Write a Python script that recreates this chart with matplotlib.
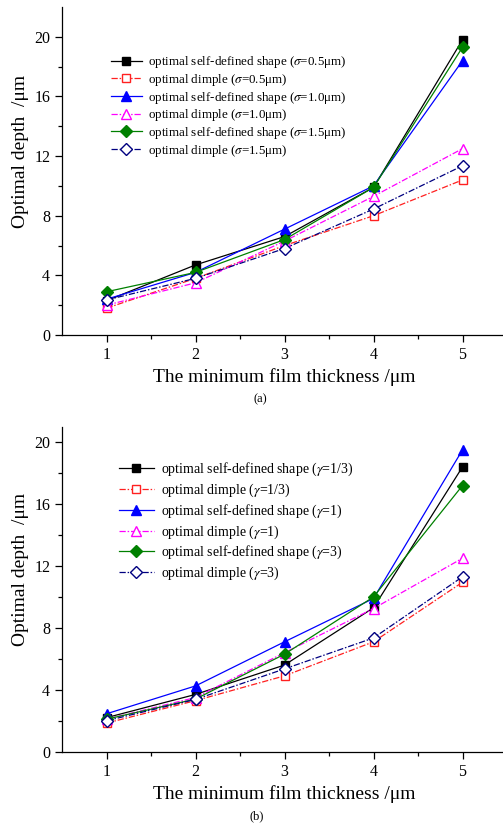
import numpy as np
import matplotlib.pyplot as plt

plt.rcParams['font.family'] = ['Liberation Serif', 'DejaVu Serif']
plt.rcParams['mathtext.fontset'] = 'stix'

# film thickness (um)
h_min = [1, 2, 3, 4, 5]

# (a) roughness sigma
self_s05 = [2.3, 4.7, 6.6, 9.9, 19.8]
dimple_s05 = [1.8, 3.8, 6.0, 8.0, 10.4]
self_s10 = [2.4, 4.2, 7.1, 10.0, 18.4]
dimple_s10 = [2.0, 3.5, 6.3, 9.3, 12.5]
self_s15 = [2.9, 4.2, 6.4, 9.9, 19.3]
dimple_s15 = [2.35, 3.8, 5.8, 8.45, 11.35]

# (b) orientation parameter gamma
self_g13 = [2.2, 3.7, 5.6, 9.3, 18.4]
dimple_g13 = [1.85, 3.3, 4.9, 7.1, 10.95]
self_g1 = [2.45, 4.25, 7.1, 9.9, 19.5]
dimple_g1 = [2.1, 3.5, 6.4, 9.25, 12.5]
self_g3 = [2.1, 3.4, 6.3, 10.0, 17.2]
dimple_g3 = [2.0, 3.38, 5.35, 7.35, 11.3]

labels_a = [r'optimal self-defined shape ($\sigma$=0.5μm)',
            r'optimal dimple ($\sigma$=0.5μm)',
            r'optimal self-defined shape ($\sigma$=1.0μm)',
            r'optimal dimple ($\sigma$=1.0μm)',
            r'optimal self-defined shape ($\sigma$=1.5μm)',
            r'optimal dimple ($\sigma$=1.5μm)']
labels_b = [r'optimal self-defined shape ($\gamma$=1/3)',
            r'optimal dimple ($\gamma$=1/3)',
            r'optimal self-defined shape ($\gamma$=1)',
            r'optimal dimple ($\gamma$=1)',
            r'optimal self-defined shape ($\gamma$=3)',
            r'optimal dimple ($\gamma$=3)']

colors = ['black', '#ff2020', '#0000ff', '#ff00ff', '#008000', '#000080']
markers = ['s', 's', '^', '^', 'D', 'D']
msizes = {'s': 5.8, '^': 7, 'D': 6}
filled = [True, False, True, False, True, False]
dashdot = (0, (5, 1.5, 1.2, 1.5))

fig = plt.figure(figsize=(5.03, 8.23), dpi=100)
ax_a = fig.add_axes([62 / 503, 488 / 823, 445 / 503, 328 / 823])
ax_b = fig.add_axes([62 / 503, 71.3 / 823, 445 / 503, 325 / 823])


def draw(ax, series, labels, ymax, fs, leg_anchor, spacing, hlen):
    for i, (ys, lab) in enumerate(zip(series, labels)):
        ax.plot(h_min, ys, color=colors[i], lw=0.9,
                linestyle='-' if filled[i] else dashdot,
                marker=markers[i], ms=msizes[markers[i]],
                mfc=colors[i] if filled[i] else 'white',
                mec=colors[i], mew=1.0, label=lab)
    ax.set_xlim(0.5, 5.5)
    ax.set_ylim(0, ymax)
    ax.set_xticks([1, 2, 3, 4, 5])
    ax.set_xticks([1.5, 2.5, 3.5, 4.5], minor=True)
    ax.set_yticks([0, 4, 8, 12, 16, 20])
    ax.set_yticks([2, 6, 10, 14, 18], minor=True)
    ax.tick_params(which='major', direction='out', length=5, width=0.9, labelsize=11.5)
    ax.tick_params(which='minor', direction='out', length=3, width=0.9)
    for s in ['top', 'right']:
        ax.spines[s].set_visible(False)
    for s in ['left', 'bottom']:
        ax.spines[s].set_linewidth(0.9)
    ax.set_xlabel('The minimum film thickness /μm', fontsize=14, labelpad=4)
    ax.set_ylabel('Optimal depth  /μm', fontsize=14)
    ax.yaxis.set_label_coords(-0.075, 0.56)
    ax.legend(loc='upper left', bbox_to_anchor=leg_anchor, frameon=False,
              fontsize=fs, handlelength=hlen, handletextpad=0.5,
              labelspacing=spacing, borderpad=0, borderaxespad=0)


draw(ax_a, [self_s05, dimple_s05, self_s10, dimple_s10, self_s15, dimple_s15],
     labels_a, 22, 9.4, (0.11, 0.856), 0.13, 2.35)
draw(ax_b, [self_g13, dimple_g13, self_g1, dimple_g1, self_g3, dimple_g3],
     labels_b, 21, 10, (0.128, 0.895), 0.25, 2.5)

fig.text(260 / 503, 1 - 399 / 823, '(a)', ha='center', va='center', fontsize=9)
fig.text(257 / 503, 1 - 816 / 823, '(b)', ha='center', va='center', fontsize=9)

fig.savefig('out.png', dpi=100)
